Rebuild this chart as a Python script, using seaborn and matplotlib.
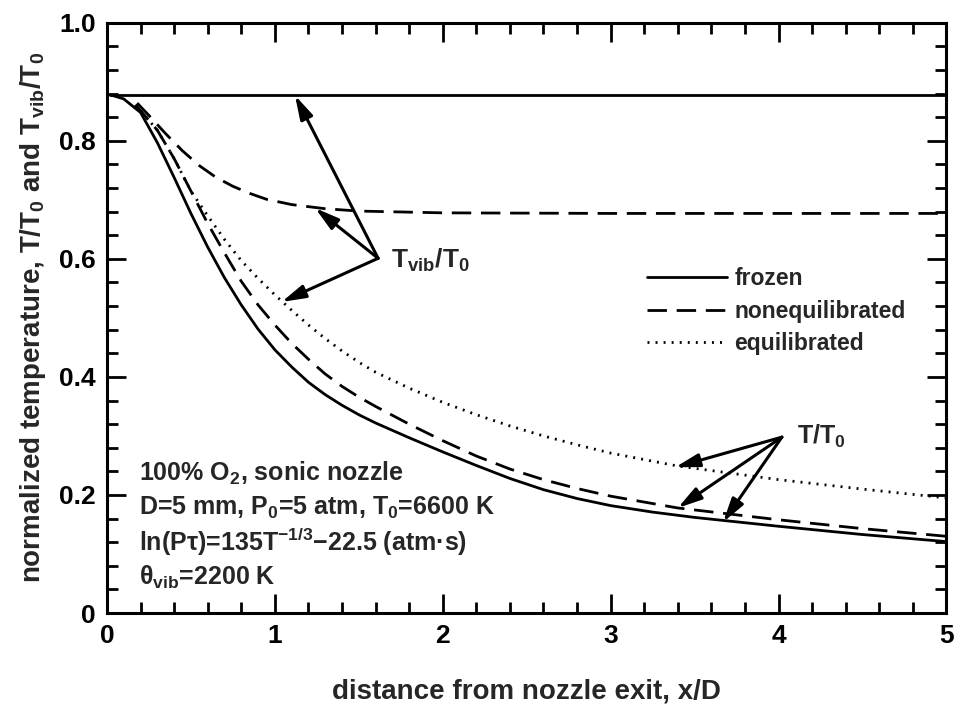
import numpy as np
import pandas as pd
import seaborn as sns
import matplotlib.pyplot as plt

# curves (x/D, T/T0)
x_tvib_frozen = [0.02, 5.0]
tvib_frozen = [0.877, 0.877]

x_tvib_noneq = [0.18, 0.25, 0.35, 0.45, 0.55, 0.65, 0.75, 0.85, 0.95, 1.1, 1.3, 1.5, 2.0, 3.0, 5.0]
tvib_noneq = [0.864, 0.843, 0.812, 0.783, 0.758, 0.738, 0.723, 0.711, 0.701, 0.692, 0.685, 0.681, 0.678, 0.677, 0.677]

x_t_frozen = [0.02, 0.1, 0.2, 0.3, 0.4, 0.5, 0.6, 0.7, 0.8, 0.9, 1.0, 1.1, 1.2, 1.3, 1.4, 1.5, 1.6, 1.8, 2.0,
              2.2, 2.4, 2.6, 2.8, 3.0, 3.25, 3.5, 4.0, 4.5, 5.0]
t_frozen = [0.878, 0.871, 0.848, 0.797, 0.738, 0.677, 0.620, 0.568, 0.522, 0.481, 0.446, 0.417, 0.391, 0.370, 0.352,
            0.336, 0.322, 0.297, 0.273, 0.250, 0.228, 0.209, 0.194, 0.182, 0.171, 0.162, 0.147, 0.133, 0.121]

x_t_noneq = [0.17, 0.3, 0.4, 0.5, 0.6, 0.7, 0.8, 0.9, 1.0, 1.1, 1.2, 1.3, 1.4, 1.5, 1.6, 1.8, 2.0, 2.2, 2.4,
             2.6, 2.8, 3.0, 3.4, 4.0, 4.5, 5.0]
t_noneq = [0.861, 0.818, 0.77, 0.715, 0.66, 0.61, 0.562, 0.522, 0.488, 0.457, 0.43, 0.405, 0.384, 0.366, 0.35,
           0.32, 0.292, 0.266, 0.244, 0.226, 0.211, 0.198, 0.178, 0.158, 0.143, 0.13]

x_t_eq = [0.17, 0.3, 0.4, 0.5, 0.6, 0.7, 0.8, 0.9, 1.0, 1.1, 1.2, 1.3, 1.4, 1.5, 1.6, 1.8, 2.0, 2.2, 2.4,
          2.6, 2.8, 3.0, 3.4, 4.0, 4.5, 5.0]
t_eq = [0.861, 0.818, 0.77, 0.715, 0.673, 0.633, 0.597, 0.567, 0.539, 0.513, 0.488, 0.465, 0.444, 0.425, 0.408,
        0.381, 0.357, 0.336, 0.317, 0.300, 0.285, 0.271, 0.249, 0.226, 0.21, 0.195]

x_ticks = [0, 1, 2, 3, 4, 5]
x_ticklabels = ['0', '1', '2', '3', '4', '5']
y_ticks = [0, 0.2, 0.4, 0.6, 0.8, 1.0]
y_ticklabels = ['0', '0.2', '0.4', '0.6', '0.8', '1.0']

sns.set_theme(style='ticks')
plt.rcParams['font.family'] = ['Liberation Sans', 'DejaVu Sans']
plt.rcParams['font.weight'] = 'bold'
plt.rcParams['mathtext.fontset'] = 'custom'
plt.rcParams['mathtext.rm'] = 'Liberation Sans:bold'
plt.rcParams['mathtext.it'] = 'Liberation Sans:bold'
plt.rcParams['mathtext.bf'] = 'Liberation Sans:bold'
plt.rcParams['mathtext.default'] = 'rm'

fig, ax = plt.subplots(figsize=(9.55, 7.12), dpi=100)
fig.subplots_adjust(left=0.112, right=0.991, bottom=0.139, top=0.968)

lw = 2.0
dash = (0, (7, 3.5))
dot = (0, (0.7, 2.2))

sns.lineplot(x=x_tvib_frozen, y=tvib_frozen, ax=ax, color='black', lw=lw)
sns.lineplot(x=x_tvib_noneq, y=tvib_noneq, ax=ax, color='black', lw=lw, linestyle=dash)
sns.lineplot(x=x_t_frozen, y=t_frozen, ax=ax, color='black', lw=lw, label='frozen')
sns.lineplot(x=x_t_noneq, y=t_noneq, ax=ax, color='black', lw=lw, linestyle=dash, label='nonequilibrated')
sns.lineplot(x=x_t_eq, y=t_eq, ax=ax, color='black', lw=lw, linestyle=dot, label='equilibrated')

ax.set_xlim(0, 5)
ax.set_ylim(0, 1.0)
ax.set_xticks(x_ticks)
ax.set_xticklabels(x_ticklabels)
ax.set_yticks(y_ticks)
ax.set_yticklabels(y_ticklabels)
ax.set_xticks(np.arange(0, 5.01, 0.2), minor=True)
ax.set_yticks(np.arange(0, 1.001, 0.04), minor=True)
ax.tick_params(which='both', direction='in', top=True, right=True, width=2.0, colors='black')
ax.tick_params(which='major', length=14, labelsize=19, pad=8)
ax.tick_params(which='minor', length=8)
for s in ax.spines.values():
    s.set_linewidth(2.2)
    s.set_color('black')

ax.set_xlabel('distance from nozzle exit, x/D', fontsize=20, fontweight='bold', labelpad=22)
ax.set_ylabel(r'normalized temperature, T/T$_0$ and T$_{vib}$/T$_0$', fontsize=20, fontweight='bold', labelpad=8)

leg = ax.legend(loc='upper left', bbox_to_anchor=(0.63, 0.605), frameon=False, fontsize=16.5,
                handlelength=3.5, handletextpad=0.3, labelspacing=0.4, borderpad=0)
for t in leg.get_texts():
    t.set_fontweight('bold')

# parameter block
info = ['100% O$_2$, sonic nozzle',
        'D=5 mm, P$_0$=5 atm, T$_0$=6600 K',
        'ln(P\u03c4)=135T$^{-1/3}$\u221222.5 (atm\u00b7s)',
        '\u03b8$_{vib}$=2200 K']
info_y = [0.237, 0.178, 0.12, 0.061]
for s, yy in zip(info, info_y):
    ax.text(0.19, yy, s, fontsize=18, fontweight='bold', va='center', ha='left')

arrow = dict(arrowstyle='-|>,head_length=0.9,head_width=0.25', color='black', lw=2.2,
             shrinkA=0, shrinkB=0, mutation_scale=16)

ax.text(1.69, 0.598, r'T$_{vib}$/T$_0$', fontsize=19, fontweight='bold', va='center', ha='left')
for tip in [(1.12, 0.877), (1.24, 0.686), (1.04, 0.527)]:
    ax.annotate('', xy=tip, xytext=(1.615, 0.601), arrowprops=arrow)

ax.text(4.11, 0.300, r'T/T$_0$', fontsize=18, fontweight='bold', va='center', ha='left')
for tip in [(3.385, 0.247), (3.40, 0.178), (3.67, 0.154)]:
    ax.annotate('', xy=tip, xytext=(4.02, 0.298), arrowprops=arrow)

fig.savefig('out.png', dpi=100)
